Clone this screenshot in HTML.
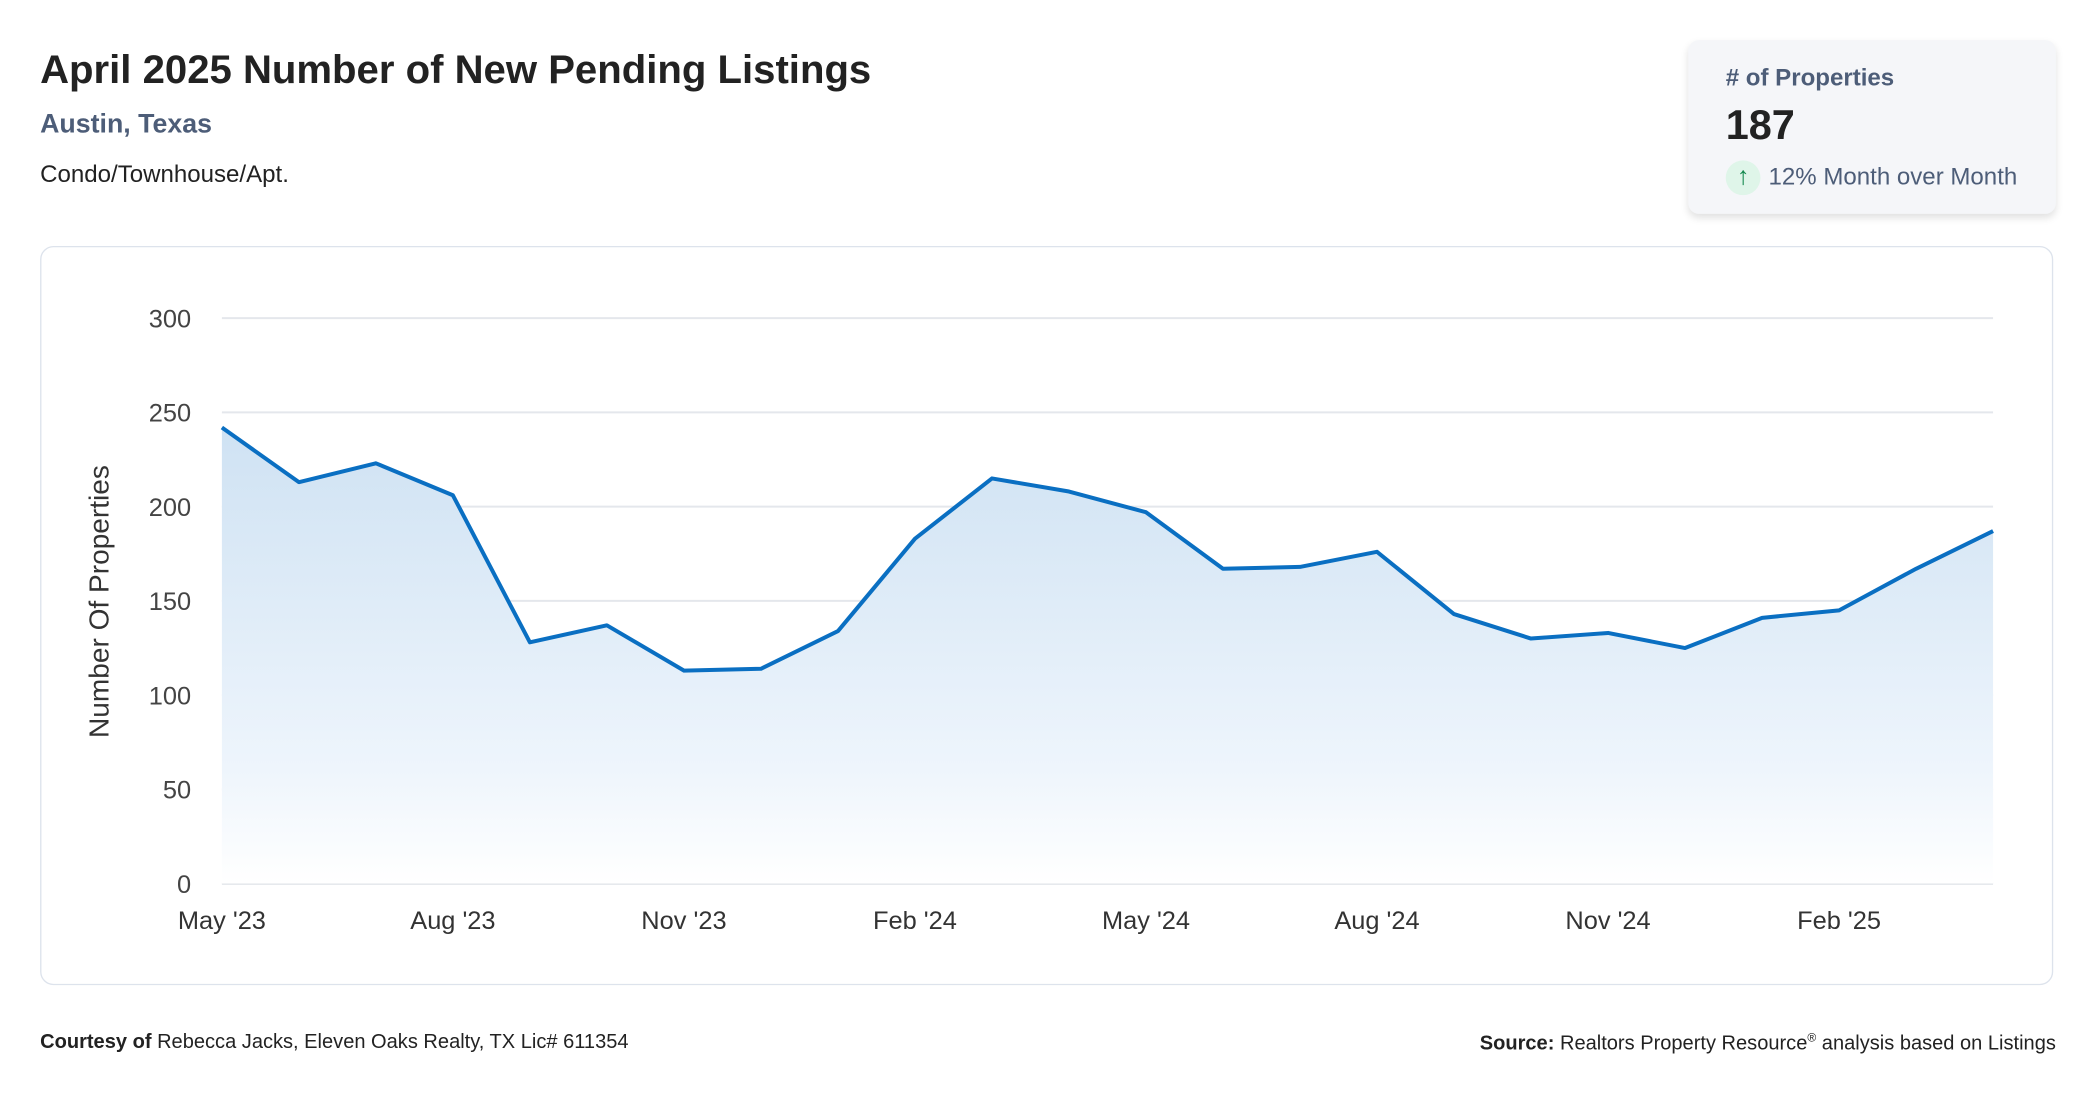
<!DOCTYPE html>
<html><head><meta charset="utf-8"><style>
html,body{margin:0;padding:0;background:#fff;width:2096px;height:1100px;overflow:hidden}
#wrap{position:absolute;left:0;top:0;width:1568px;height:823px;transform:scale(1.33673);transform-origin:0 0;font-family:"Liberation Sans",sans-serif;color:#222}
.abs{position:absolute;white-space:nowrap}
</style></head><body>
<div id="wrap">
<div class="abs" style="left:30px;top:36px;font-size:30px;font-weight:bold;color:#222">April 2025 Number of New Pending Listings</div>
<div class="abs" style="left:30px;top:82px;font-size:20px;font-weight:bold;color:#4d5d78">Austin, Texas</div>
<div class="abs" style="left:30px;top:120px;font-size:18px;color:#222">Condo/Townhouse/Apt.</div>
<div class="abs" style="left:1263px;top:30px;width:275px;height:130px;background:#f5f6f9;border-radius:8px;box-shadow:0 3px 6px rgba(0,0,0,0.12)">
  <div class="abs" style="left:28px;top:18px;font-size:18px;font-weight:bold;color:#4d5d78"># of Properties</div>
  <div class="abs" style="left:28px;top:46px;font-size:31px;font-weight:bold;color:#222">187</div>
  <div class="abs" style="left:28px;top:90px;width:26px;height:26px;border-radius:13px;background:#dff5e9;color:#15894f;font-size:19px;text-align:center;line-height:26px">↑</div>
  <div class="abs" style="left:60px;top:92px;font-size:18px;color:#4d5d78">12% Month over Month</div>
</div>
<div class="abs" style="left:30px;top:184px;width:1506px;height:553px;border:1px solid #dde3ec;border-radius:10px;box-sizing:border-box"></div>
<svg class="abs" style="left:0;top:0" width="1568" height="823" font-family="Liberation Sans, sans-serif">
<defs><linearGradient id="g" x1="0" y1="0" x2="0" y2="1"><stop offset="0" stop-color="#cfe2f3"/><stop offset="0.75" stop-color="#eef5fc"/><stop offset="1" stop-color="#ffffff"/></linearGradient></defs>
<g id="grid"></g><path id="area" fill="url(#g)"/><path id="line" fill="none" stroke="#0a6fc2" stroke-width="3" stroke-linejoin="round"/>
<g id="ylabels"></g><g id="xlabels"></g>
<text transform="translate(81,450) rotate(-90)" text-anchor="middle" font-size="21" fill="#333">Number Of Properties</text>
</svg>
<div class="abs" style="left:30px;top:771px;font-size:15px;color:#222"><b>Courtesy of</b> Rebecca Jacks, Eleven Oaks Realty, TX Lic# 611354</div>
<div class="abs" style="right:30px;top:771px;font-size:15px;color:#222"><b>Source:</b> Realtors Property Resource<sup style="font-size:9px">®</sup> analysis based on Listings</div>
</div>
<script>
const months=["May '23","Jun '23","Jul '23","Aug '23","Sep '23","Oct '23","Nov '23","Dec '23","Jan '24","Feb '24","Mar '24","Apr '24","May '24","Jun '24","Jul '24","Aug '24","Sep '24","Oct '24","Nov '24","Dec '24","Jan '25","Feb '25","Mar '25","Apr '25"];
const values=[242,213,223,206,128,137,113,114,134,183,215,208,197,167,168,176,143,130,133,125,141,145,167,187];
const yTicks=[0,50,100,150,200,250,300];
const xTickEvery=3;
const NS="http://www.w3.org/2000/svg";
const x0=166,x1=1491,yb=661,yt=238,yMax=300;
const X=i=>x0+(x1-x0)*i/(months.length-1);
const Y=v=>yb-(yb-yt)*v/yMax;
const grid=document.getElementById('grid'),yl=document.getElementById('ylabels'),xl=document.getElementById('xlabels');
yTicks.forEach(t=>{
 const l=document.createElementNS(NS,'line');
 
 
 l.setAttribute('x1',x0);l.setAttribute('x2',x1);l.setAttribute('y1',Y(t));l.setAttribute('y2',Y(t));
 l.setAttribute('stroke',t===0?'#d8dce2':'#e4e7ec');l.setAttribute('stroke-width','1.5');
 grid.appendChild(l);
 const tx=document.createElementNS(NS,'text');
 
 
 tx.setAttribute('x',143);tx.setAttribute('y',Y(t)+7);tx.setAttribute('text-anchor','end');
 tx.setAttribute('font-size','19');tx.setAttribute('fill','#444');tx.textContent=t;
 yl.appendChild(tx);
});
months.forEach((m,i)=>{
 if(i%xTickEvery) return;
 const tx=document.createElementNS(NS,'text');
 
 
 tx.setAttribute('x',X(i));tx.setAttribute('y',695);tx.setAttribute('text-anchor','middle');
 tx.setAttribute('font-size','19');tx.setAttribute('fill','#333');tx.textContent=m;
 xl.appendChild(tx);
});
let d=values.map((v,i)=>(i?'L':'M')+X(i).toFixed(1)+' '+Y(v).toFixed(1)).join(' ');
document.getElementById('line').setAttribute('d',d);
document.getElementById('area').setAttribute('d',d+` L${X(values.length-1)} ${yb} L${x0} ${yb} Z`);
</script>
</body></html>
